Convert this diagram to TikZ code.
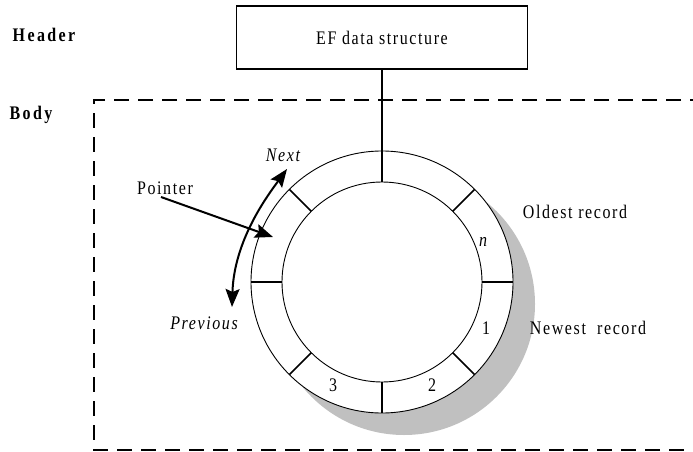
\documentclass[tikz,border=0pt]{standalone}
\usepackage{fontspec}
\setmainfont{Liberation Serif}[LetterSpace=10]
\usetikzlibrary{arrows.meta}
\definecolor{shadowgray}{RGB}{192,192,192}
\begin{document}
\begin{tikzpicture}[x=1pt,y=-1pt,
  tall/.style={inner sep=0pt, yscale=1.2, transform shape},
  txt/.style={tall, font=\fontsize{16}{19}\selectfont},
  btxt/.style={tall, font=\fontsize{16}{19}\selectfont\bfseries\addfontfeatures{LetterSpace=15}},
  itxt/.style={tall, font=\fontsize{16}{19}\selectfont\itshape},
  hdrbox/.style={draw, line width=1.8pt, minimum width=291pt, minimum height=63pt, inner sep=0pt, outer sep=0pt},
  ringc/.style={circle, draw, fill=white, line width=0.9pt, minimum size=262pt, inner sep=0pt, outer sep=0pt},
  shadowc/.style={circle, fill=shadowgray, minimum size=262pt, inner sep=0pt, outer sep=0pt},
  frame/.style={line width=2pt, dash pattern=on 15pt off 9pt},
  spoke/.style={line width=1.6pt},
  stem/.style={line width=2pt},
  tip/.style={Stealth[length=18pt, width=14pt, inset=3pt]},
  arr/.style={line width=2pt, -{Stealth[length=18pt, width=14pt, inset=3pt]}},
  darr/.style={line width=2pt, {Stealth[length=18pt, width=14pt, inset=3pt]}-{Stealth[length=18pt, width=14pt, inset=3pt]}}
]
\useasboundingbox (0,0) rectangle (693,452);
% dashed body frame (right side lies outside the picture)
\draw[frame] (705,100) -- (94,100) -- (94,450) -- (705,450);
% header box
\node[hdrbox] (hdr) at (382,37.5) {};
\node[txt] (hdrtxt) at (hdr.center) {EF data structure};
% ring with shadow
\node[shadowc] (shd) at (404,304) {};
\node[ringc] (ring) at (382,282) {};
\node[ringc, minimum size=200pt] (hub) at (382,282) {};
\foreach \a in {45,0,-45,-90,-135,180,135}
  \draw[spoke] (hub.\a) -- (ring.\a);
\draw[stem] (hdr.south) -- (hub.90);
% labels
\node[btxt] (lhead) at (44,35) {Header};
\node[btxt] (lbody) at (31,115) {Body};
\node[txt] (lptr) at (165,188) {Pointer};
\node[itxt] (lnext) at (283,155) {Next};
\node[itxt] (lprev) at (204,323) {Previous};
\node[txt] (lold) at (575,212) {Oldest record};
\node[txt] (lnew) at (588,328) {Newest\ \ record};
\node[itxt] (sn) at (483,242) {n};
\node[txt] (s1) at (486,328) {1};
\node[txt] (s2) at (432,385) {2};
\node[txt] (s3) at (333,385) {3};
% arrows
\coordinate (ptrS) at (161,197);
\coordinate (ptrE) at (273,237);
\draw[arr] (ptrS) -- (ptrE);
\coordinate (nxt) at (287,169);
\coordinate (prv) at (232,307);
\draw[darr] (prv) .. controls (234,240) and (268,195) .. (nxt);
\end{tikzpicture}
\end{document}
